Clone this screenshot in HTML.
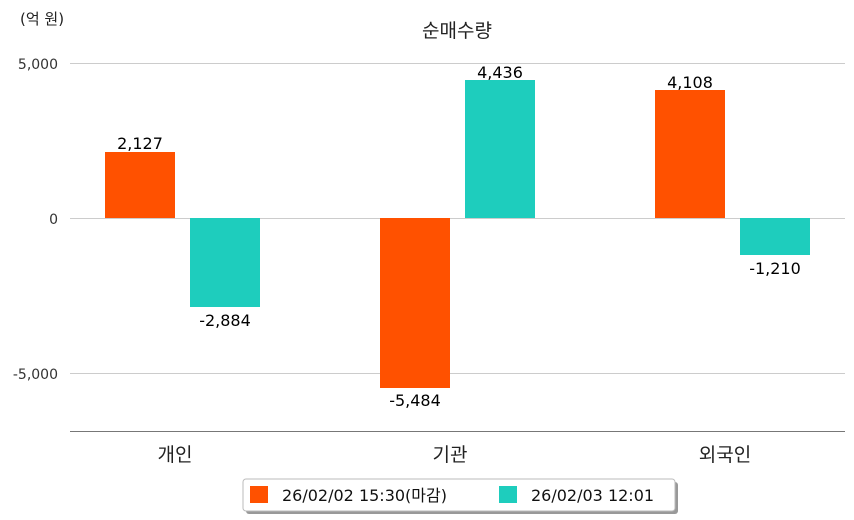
<!DOCTYPE html>
<html><head><meta charset="utf-8"><style>
body{margin:0;background:#fff;}
svg{display:block;font-family:"DejaVu Sans","Noto Sans CJK KR",sans-serif;}
</style></head><body>
<svg width="854" height="520" xmlns="http://www.w3.org/2000/svg">
<text x="20" y="24" font-size="15" fill="#222">(억 원)</text>
<text x="457" y="37" font-size="19" fill="#222" text-anchor="middle">순매수량</text>
<g stroke="#ccc" stroke-width="1">
<line x1="70" y1="63.5" x2="845" y2="63.5"/>
<line x1="70" y1="218.5" x2="845" y2="218.5"/>
<line x1="70" y1="373.5" x2="845" y2="373.5"/>
</g>
<line x1="70" y1="431.5" x2="845" y2="431.5" stroke="#777" stroke-width="1"/>
<g font-size="14" fill="#333" text-anchor="end">
<text x="58" y="69">5,000</text>
<text x="58" y="224">0</text>
<text x="58" y="379">-5,000</text>
</g>
<g fill="#ff5100">
<rect x="105" y="152" width="70" height="66"/>
<rect x="380" y="218" width="70" height="170"/>
<rect x="655" y="90" width="70" height="128"/>
</g>
<g fill="#1ecdbd">
<rect x="190" y="218" width="70" height="89"/>
<rect x="465" y="80" width="70" height="138"/>
<rect x="740" y="218" width="70" height="37"/>
</g>
<g font-size="16" fill="#000" text-anchor="middle" font-weight="500">
<text x="140" y="149">2,127</text>
<text x="225" y="326">-2,884</text>
<text x="415" y="406">-5,484</text>
<text x="500" y="78">4,436</text>
<text x="690" y="88">4,108</text>
<text x="775" y="274">-1,210</text>
</g>
<g font-size="19" fill="#222" text-anchor="middle">
<text x="175" y="461">개인</text>
<text x="450" y="461">기관</text>
<text x="725" y="461">외국인</text>
</g>
<rect x="246" y="482" width="432" height="32" rx="3" fill="#999"/>
<rect x="243" y="479" width="432" height="32" rx="3" fill="#fff" stroke="#bbb"/>
<rect x="250" y="486" width="18" height="17" fill="#ff5100"/>
<text x="282" y="501" font-size="16" fill="#111">26/02/02 15:30(마감)</text>
<rect x="499" y="486" width="18" height="17" fill="#1ecdbd"/>
<text x="531" y="501" font-size="16" fill="#111">26/02/03 12:01</text>
</svg>
</body></html>
